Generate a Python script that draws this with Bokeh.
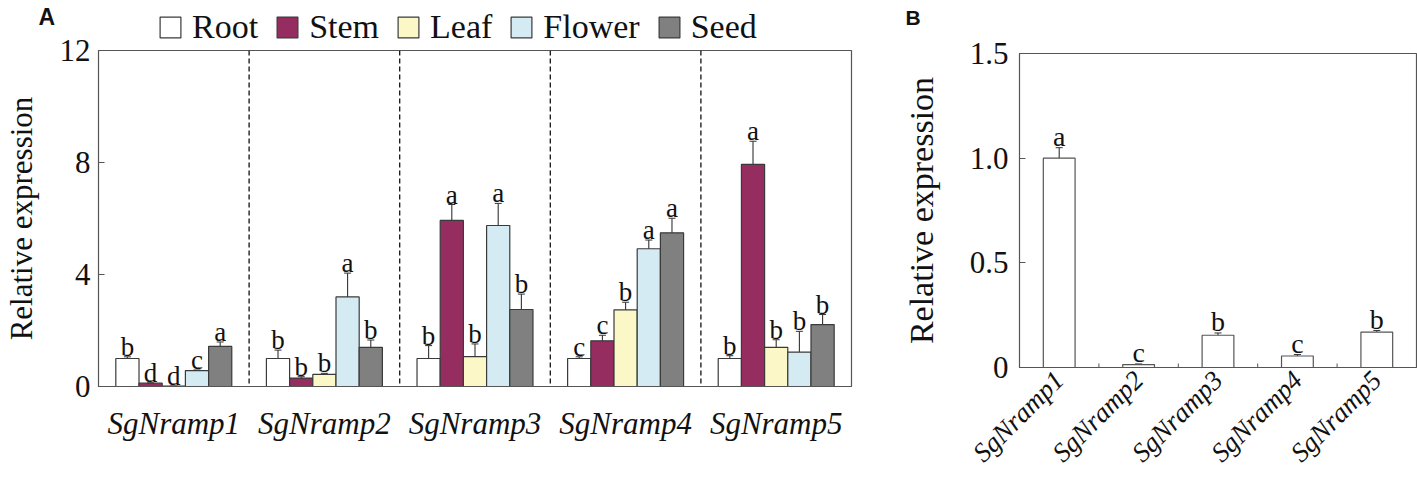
import math
from bokeh.plotting import figure
from bokeh.models import (ColumnDataSource, FactorRange, Range1d, Whisker, Span,
                          Legend, LegendItem, FixedTicker, Label)
from bokeh.transform import dodge
from bokeh.layouts import row, column
from bokeh.core.properties import value
from bokeh.embed import file_html
from bokeh.resources import INLINE

# ---------------- data ----------------
genes = ["SgNramp1", "SgNramp2", "SgNramp3", "SgNramp4", "SgNramp5"]
tissues = ["Root", "Stem", "Leaf", "Flower", "Seed"]

root_mean = [1.00, 1.00, 1.00, 1.00, 1.00]
root_err = [0.06, 0.30, 0.46, 0.06, 0.10]
root_letter = ["b", "b", "b", "c", "b"]

stem_mean = [0.12, 0.30, 5.93, 1.63, 7.93]
stem_err = [0.01, 0.05, 0.57, 0.20, 0.83]
stem_letter = ["d", "b", "a", "c", "a"]

leaf_mean = [0.01, 0.43, 1.07, 2.74, 1.40]
leaf_err = [0.00, 0.04, 0.45, 0.27, 0.27]
leaf_letter = ["d", "b", "b", "b", "b"]

flower_mean = [0.57, 3.20, 5.75, 4.92, 1.23]
flower_err = [0.02, 0.85, 0.79, 0.31, 0.74]
flower_letter = ["c", "a", "a", "a", "b"]

seed_mean = [1.43, 1.40, 2.75, 5.49, 2.21]
seed_err = [0.16, 0.26, 0.55, 0.52, 0.36]
seed_letter = ["a", "b", "b", "a", "b"]

root_b_mean = [1.00, 0.014, 0.154, 0.055, 0.169]
root_b_err = [0.05, 0.003, 0.011, 0.007, 0.008]
root_b_letter = ["a", "c", "b", "c", "b"]

ya_ticks = [0, 4, 8, 12]
yb_ticks = [0, 0.5, 1.0, 1.5]
yb_tick_labels = ["0", "0.5", "1.0", "1.5"]

panel_letters = ["A", "B"]
tissue_colors = ["#ffffff", "#962d60", "#fbf7c6", "#d4ebf3", "#808080"]

series = [
    (root_mean, root_err, root_letter),
    (stem_mean, stem_err, stem_letter),
    (leaf_mean, leaf_err, leaf_letter),
    (flower_mean, flower_err, flower_letter),
    (seed_mean, seed_err, seed_letter),
]

SERIF = "Liberation Serif"
EDGE = "#3a3a3a"
AXIS = "#555555"
INK = "#111111"

# ---------------- header strip: legend + panel letters ----------------
header = figure(width=1417, height=48, x_range=Range1d(0, 1), y_range=Range1d(0, 1),
                output_backend="svg", toolbar_location=None,
                x_axis_type=None, y_axis_type=None, min_border=0)
header.outline_line_color = None
header.xgrid.visible = False
header.ygrid.visible = False
header.margin = (0, 0, -20, 0)

items = []
for tissue, col in zip(tissues, tissue_colors):
    # legend swatch carrier: its bar lies outside the strip's visible range
    r = header.vbar(x=[0.5], bottom=[-2], top=[-1], width=0.1, fill_color=col,
                    line_color=EDGE, line_width=1.2)
    items.append(LegendItem(label=tissue, renderers=[r]))

legend = Legend(items=items, orientation="horizontal", location=(157, 2),
                glyph_width=26, glyph_height=26, label_standoff=9, spacing=16,
                padding=0, margin=0, border_line_color=None,
                background_fill_alpha=0, label_text_font=SERIF,
                label_text_font_size="34px", label_text_color=INK)
header.add_layout(legend)

header.add_layout(Label(x=38, y=32, x_units="screen", y_units="screen",
                        text=panel_letters[0], text_font="Liberation Sans",
                        text_font_style="bold", text_font_size="23px",
                        text_baseline="alphabetic", text_color=INK))
header.add_layout(Label(x=905, y=31, x_units="screen", y_units="screen",
                        text=panel_letters[1], text_font="Liberation Sans",
                        text_font_style="bold", text_font_size="21px",
                        text_baseline="alphabetic", text_color=INK))

# ---------------- panel A ----------------
pA = figure(x_range=FactorRange(factors=genes), y_range=Range1d(0, 12),
            width=870, height=453, output_backend="svg", toolbar_location=None,
            min_border_left=93, min_border_right=19, min_border_top=22,
            min_border_bottom=95)
pA.border_fill_alpha = 0

bw = 0.154
for i, (col, (m, e, let)) in enumerate(zip(tissue_colors, series)):
    off = (i - 2) * bw
    src = ColumnDataSource(dict(
        gene=genes, val=m,
        upper=[a + b for a, b in zip(m, e)],
        lower=[a - b for a, b in zip(m, e)],
        letter=let))
    pA.vbar(x=dodge("gene", off, range=pA.x_range), top="val", width=bw,
            fill_color=col, line_color=EDGE, line_width=1.2, source=src)
    w = Whisker(source=src, base=dodge("gene", off, range=pA.x_range),
                upper="upper", lower="lower", dimension="height",
                line_color="#333333", line_width=1.1)
    w.upper_head.size = 7
    w.lower_head.size = 7
    w.upper_head.line_color = "#333333"
    w.lower_head.line_color = "#333333"
    pA.add_layout(w)
    pA.text(x=dodge("gene", off, range=pA.x_range), y="upper", text="letter",
            text_align="center", text_baseline="alphabetic", y_offset=-10,
            text_font=value(SERIF), text_font_size="27px", text_color=INK,
            source=src)

for k in range(1, len(genes)):
    pA.add_layout(Span(location=k, dimension="height", line_color=INK,
                       line_dash="5 3", line_width=1.3))

pA.xgrid.visible = False
pA.ygrid.visible = False
pA.outline_line_color = AXIS
pA.outline_line_width = 1.2

pA.yaxis.ticker = FixedTicker(ticks=ya_ticks)
pA.yaxis.major_tick_in = 6
pA.yaxis.major_tick_out = 0
pA.yaxis.minor_tick_in = 0
pA.yaxis.minor_tick_out = 0
pA.yaxis.major_label_standoff = 8
pA.yaxis.major_label_text_font = SERIF
pA.yaxis.major_label_text_font_size = "31px"
pA.yaxis.major_label_text_color = INK
pA.yaxis.axis_label = "Relative expression"
pA.yaxis.axis_label_text_font = SERIF
pA.yaxis.axis_label_text_font_style = "normal"
pA.yaxis.axis_label_text_font_size = "31px"
pA.yaxis.axis_label_text_color = INK
pA.yaxis.axis_label_standoff = 18
pA.yaxis.axis_line_color = AXIS
pA.yaxis.major_tick_line_color = AXIS

pA.xaxis.major_tick_in = 0
pA.xaxis.major_tick_out = 0
pA.xaxis.major_label_standoff = 19
pA.xaxis.major_label_text_font = SERIF
pA.xaxis.major_label_text_font_style = "italic"
pA.xaxis.major_label_text_font_size = "31px"
pA.xaxis.major_label_text_color = INK
pA.xaxis.axis_line_color = AXIS

# ---------------- panel B ----------------
pB = figure(x_range=FactorRange(factors=genes), y_range=Range1d(0, 1.5),
            width=547, height=453, output_backend="svg", toolbar_location=None,
            min_border_left=149, min_border_right=1, min_border_top=25,
            min_border_bottom=111)
pB.border_fill_alpha = 0

srcB = ColumnDataSource(dict(
    gene=genes, val=root_b_mean,
    upper=[a + b for a, b in zip(root_b_mean, root_b_err)],
    lower=[a - b for a, b in zip(root_b_mean, root_b_err)],
    letter=root_b_letter))
pB.vbar(x="gene", top="val", width=0.4, fill_color="#ffffff", line_color="#555555",
        line_width=1.2, source=srcB)
wB = Whisker(source=srcB, base="gene", upper="upper", lower="lower",
             dimension="height", line_color="#333333", line_width=1.1)
wB.upper_head.size = 7
wB.lower_head.size = 7
wB.upper_head.line_color = "#333333"
wB.lower_head.line_color = "#333333"
pB.add_layout(wB)
pB.text(x="gene", y="upper", text="letter", text_align="center",
        text_baseline="alphabetic", y_offset=-11, text_font=value(SERIF),
        text_font_size="28px", text_color=INK, source=srcB)

bounds = list(range(1, len(genes)))
pB.ray(x=bounds, y=[0] * len(bounds), length=4, length_units="screen",
       angle=math.pi / 2, line_color=AXIS, line_width=1)

pB.xgrid.visible = False
pB.ygrid.visible = False
pB.outline_line_color = AXIS
pB.outline_line_width = 1.2

pB.yaxis.ticker = FixedTicker(ticks=yb_ticks)
pB.yaxis.major_label_overrides = {t: s for t, s in zip(yb_ticks, yb_tick_labels)}
pB.yaxis.major_tick_in = 6
pB.yaxis.major_tick_out = 0
pB.yaxis.minor_tick_in = 0
pB.yaxis.minor_tick_out = 0
pB.yaxis.major_label_standoff = 11
pB.yaxis.major_label_text_font = SERIF
pB.yaxis.major_label_text_font_size = "31px"
pB.yaxis.major_label_text_color = INK
pB.yaxis.axis_label = "Relative expression"
pB.yaxis.axis_label_text_font = SERIF
pB.yaxis.axis_label_text_font_style = "normal"
pB.yaxis.axis_label_text_font_size = "34px"
pB.yaxis.axis_label_text_color = INK
pB.yaxis.axis_label_standoff = 27
pB.yaxis.axis_line_color = AXIS
pB.yaxis.major_tick_line_color = AXIS

pB.xaxis.major_tick_in = 0
pB.xaxis.major_tick_out = 0
pB.xaxis.major_label_standoff = 8
pB.xaxis.major_label_orientation = math.pi / 4
pB.xaxis.major_label_text_font = SERIF
pB.xaxis.major_label_text_font_style = "italic"
pB.xaxis.major_label_text_font_size = "27px"
pB.xaxis.major_label_text_color = INK
pB.xaxis.axis_line_color = AXIS

layout = column(header, row(pA, column(pB)))
open("out.html", "w").write(file_html(layout, INLINE))
